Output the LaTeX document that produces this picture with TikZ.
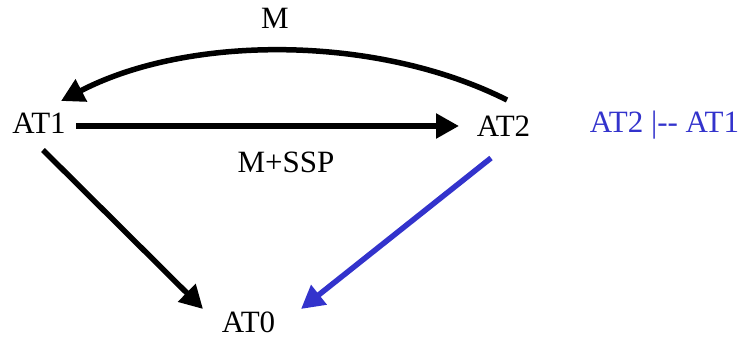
\documentclass[tikz,border=0pt]{standalone}
\usepackage{fontspec}
\setmainfont[Ligatures=NoCommon]{Liberation Serif}
\usetikzlibrary{arrows.meta,calc}
\definecolor{myblue}{RGB}{51,51,204}
\begin{document}
\begin{tikzpicture}[x=1pt,y=-1pt,
  lbl/.style={inner sep=0pt, anchor=base, font=\fontsize{31}{37}\selectfont},
  conn/.style={line width=5.5pt, -{Triangle[length=23pt,width=24pt]}}]
\useasboundingbox (0,0) rectangle (748,339);
\node[lbl] (m) at (275,29) {M};
\node[lbl] (at1) at (39,134) {AT1};
\node[lbl] (at2) at (503.5,137) {AT2};
\node[lbl] (mssp) at (286,173) {M+SSP};
\node[lbl] (at0) at (248.5,333) {AT0};
\node[lbl, text=myblue] (note) at (664.5,133) {AT2 |\mbox{-}\mbox{-} AT1};
\draw[conn] ($(at1.base)+(37,-8)$) -- ($(at2.base)+(-44.5,-11)$);
\draw[conn] ($(at2.base)+(3.5,-37)$) .. controls (378,35) and (190,34) .. ($(at1.base)+(22,-33)$);
\draw[conn] ($(at1.base)+(4,16)$) -- ($(at0.base)+(-45.5,-24)$);
\draw[conn, myblue] ($(at2.base)+(-12.5,21)$) -- ($(at0.base)+(52.5,-24)$);
\end{tikzpicture}
\end{document}
